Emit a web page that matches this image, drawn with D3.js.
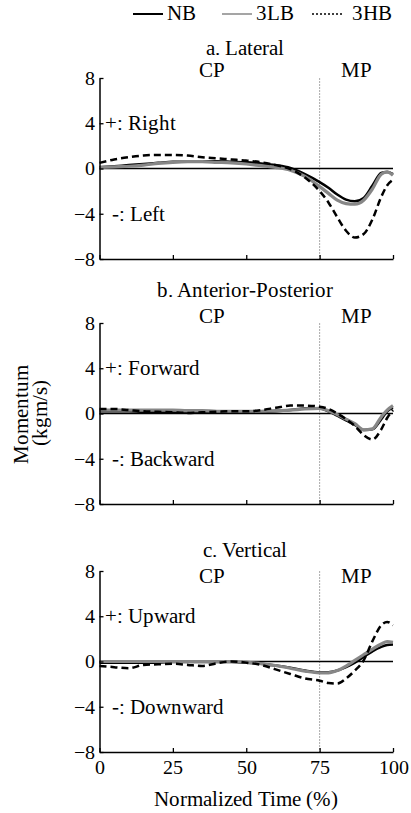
<!DOCTYPE html>
<meta charset="utf-8">
<script src="https://d3js.org/d3.v7.min.js"></script>
<style>
  @font-face {
    font-family: "TimesLike";
    src: local("Liberation Serif"), local("LiberationSerif"), local("LiberationSerif-Regular"), local("Times New Roman");
  }
  body { margin: 0; background: #fff; }
</style>
<div id="chart"></div>
<script>
  // shared time base (% of movement)
  var time = [0, 5, 10, 15, 20, 25, 30, 35, 40, 45, 50, 55, 60, 65, 70, 75, 78, 81, 84, 87, 90, 93, 96, 98, 100];

  // a. Lateral
  var latNB  = [0.1, 0.2, 0.3, 0.4, 0.5, 0.6, 0.6, 0.65, 0.65, 0.6, 0.55, 0.45, 0.3, 0.05, -0.5, -1.2, -1.7, -2.3, -2.75, -2.9, -2.6, -1.5, -0.4, -0.3, -0.5];
  var lat3LB = [0.1, 0.15, 0.2, 0.3, 0.45, 0.55, 0.6, 0.6, 0.55, 0.5, 0.4, 0.25, 0.1, -0.15, -0.7, -1.6, -2.2, -2.8, -3.1, -3.15, -2.8, -1.8, -0.5, -0.3, -0.6];
  var lat3HB = [0.5, 0.8, 1.0, 1.15, 1.2, 1.2, 1.15, 1.0, 0.9, 0.8, 0.7, 0.55, 0.3, -0.05, -0.8, -2.0, -3.0, -4.3, -5.5, -6.1, -5.8, -4.5, -2.5, -1.5, -1.0];

  // b. Anterior-Posterior
  var apNB  = [0.2, 0.2, 0.2, 0.15, 0.15, 0.15, 0.15, 0.15, 0.15, 0.15, 0.15, 0.15, 0.2, 0.3, 0.45, 0.45, 0.2, -0.2, -0.6, -1.0, -1.45, -1.4, -0.5, 0.2, 0.5];
  var ap3LB = [0.3, 0.3, 0.3, 0.3, 0.3, 0.3, 0.25, 0.25, 0.2, 0.2, 0.2, 0.2, 0.25, 0.3, 0.4, 0.45, 0.25, -0.1, -0.5, -0.9, -1.45, -1.35, -0.3, 0.3, 0.7];
  var ap3HB = [0.4, 0.4, 0.3, 0.2, 0.15, 0.1, 0.05, 0.1, 0.15, 0.2, 0.2, 0.3, 0.5, 0.7, 0.7, 0.6, 0.4, 0.0, -0.5, -1.1, -1.9, -2.3, -1.4, -0.4, 0.3];

  // c. Vertical
  var vtNB  = [-0.1, -0.1, -0.1, -0.1, -0.1, -0.05, -0.05, -0.05, -0.05, -0.05, -0.1, -0.2, -0.35, -0.55, -0.8, -0.95, -0.95, -0.8, -0.5, -0.1, 0.4, 0.9, 1.3, 1.45, 1.5];
  var vt3LB = [0.0, 0.0, 0.0, 0.0, 0.0, 0.0, 0.0, 0.0, 0.0, 0.0, -0.05, -0.2, -0.35, -0.6, -0.85, -1.0, -1.0, -0.8, -0.4, 0.1, 0.6, 1.1, 1.55, 1.75, 1.7];
  var vt3HB = [-0.4, -0.5, -0.6, -0.3, -0.25, -0.2, -0.3, -0.4, -0.15, 0.0, -0.1, -0.3, -0.7, -1.1, -1.5, -1.7, -1.9, -1.95, -1.5, -0.8, 0.1, 1.8, 3.2, 3.5, 3.2];

  var titles = ["a. Lateral", "b. Anterior-Posterior", "c. Vertical"];
  var plusLabels = ["+: Right", "+: Forward", "+: Upward"];
  var minusLabels = ["-: Left", "-: Backward", "-: Downward"];
  var seriesNames = ["NB", "3LB", "3HB"];
  var panelData = [[latNB, lat3LB, lat3HB], [apNB, ap3LB, ap3HB], [vtNB, vt3LB, vt3HB]];
  var yTicks = [-8, -4, 0, 4, 8];
  var xTicks = [0, 25, 50, 75, 100];

  var width = 411, height = 813;
  var tops = [78, 323, 571], panelH = 181;
  var titleDy = [-23, -26, -14], cpDy = [-1, 0, 12];
  var serif = "TimesLike, 'Liberation Serif', 'DejaVu Serif', serif";
  var fs = 20.6;
  var styles = {
    "NB":  { color: "#000", width: 2.5, dash: null },
    "3LB": { color: "#878787", width: 3.2, dash: null },
    "3HB": { color: "#000", width: 2.5, dash: "7,4" }
  };

  var svg = d3.select("#chart").append("svg")
    .attr("width", width)
    .attr("height", height)
    .attr("font-family", serif);

  function label(sel, size) {
    return sel.attr("font-family", serif).style("font-family", serif)
      .style("font-size", size + "px").attr("fill", "#000");
  }

  var x = d3.scaleLinear().domain([0, 100]).range([99.5, 393]);

  panelData.forEach(function(series, i) {
    var y = d3.scaleLinear().domain([-8, 8]).range([tops[i] + panelH, tops[i]]);
    var g = svg.append("g");

    // phase divider at 75%
    g.append("line")
      .attr("x1", x(75)).attr("x2", x(75))
      .attr("y1", y(8)).attr("y2", y(-8))
      .attr("stroke", "#aaa").attr("stroke-width", 1)
      .attr("stroke-dasharray", "2,1");

    // zero line
    g.append("line")
      .attr("x1", x(0)).attr("x2", x(100))
      .attr("y1", y(0)).attr("y2", y(0))
      .attr("stroke", "#000").attr("stroke-width", 1.3);

    var line = d3.line()
      .x(function(d, k) { return x(time[k]); })
      .y(function(d) { return y(d); })
      .curve(d3.curveMonotoneX);

    series.forEach(function(vals, s) {
      var st = styles[seriesNames[s]];
      g.append("path")
        .datum(vals)
        .attr("d", line)
        .attr("fill", "none")
        .attr("stroke", st.color)
        .attr("stroke-width", st.width)
        .attr("stroke-dasharray", st.dash);
    });

    // axes
    var yAxis = g.append("g")
      .attr("transform", "translate(" + x(0) + ",0)")
      .call(d3.axisLeft(y).tickValues(yTicks).tickSizeInner(-4).tickSizeOuter(0).tickPadding(5));
    var xAxis = g.append("g")
      .attr("transform", "translate(0," + y(-8) + ")")
      .call(d3.axisBottom(x).tickValues(xTicks).tickSizeInner(-4).tickSizeOuter(0).tickPadding(8)
        .tickFormat(i == 2 ? d3.format("d") : function() { return ""; }));
    [yAxis, xAxis].forEach(function(a) {
      a.attr("font-family", serif);
      a.select(".domain").attr("stroke-width", 1.5);
      a.selectAll(".tick line").attr("stroke-width", 1.3);
      label(a.selectAll("text"), 19.5);
    });

    // texts
    label(g.append("text"), fs)
      .attr("x", 245).attr("y", tops[i] + titleDy[i])
      .attr("text-anchor", "middle")
      .text(titles[i]);
    label(g.append("text"), fs)
      .attr("x", x(38.3)).attr("y", tops[i] + cpDy[i])
      .attr("text-anchor", "middle")
      .text("CP");
    label(g.append("text"), fs)
      .attr("x", x(87.7)).attr("y", tops[i] + cpDy[i])
      .attr("text-anchor", "middle")
      .text("MP");
    label(g.append("text"), fs)
      .attr("x", 105).attr("y", y(4) + 7)
      .text(plusLabels[i]);
    label(g.append("text"), fs)
      .attr("x", 112).attr("y", y(-4) + 7)
      .text(minusLabels[i]);
  });

  // axis titles
  label(svg.append("text"), fs)
    .attr("transform", "translate(28,414) rotate(-90)")
    .attr("text-anchor", "middle")
    .text("Momentum");
  label(svg.append("text"), fs)
    .attr("transform", "translate(47,413) rotate(-90)")
    .attr("text-anchor", "middle")
    .text("(kgm/s)");
  label(svg.append("text"), fs)
    .attr("x", 246).attr("y", 806)
    .attr("text-anchor", "middle")
    .text("Normalized Time (%)");

  // legend
  var legendX = [133, 222, 312];
  var legendStyles = [
    { color: "#000", width: 2, dash: null },
    { color: "#878787", width: 1.5, dash: null },
    { color: "#000", width: 1.3, dash: "2,2" }
  ];
  seriesNames.forEach(function(name, s) {
    svg.append("line")
      .attr("x1", legendX[s]).attr("x2", legendX[s] + 30)
      .attr("y1", 14).attr("y2", 14)
      .attr("stroke", legendStyles[s].color)
      .attr("stroke-width", legendStyles[s].width)
      .attr("stroke-dasharray", legendStyles[s].dash);
    label(svg.append("text"), fs)
      .attr("x", legendX[s] + (s == 2 ? 40 : 34)).attr("y", 20)
      .text(name);
  });
</script>
